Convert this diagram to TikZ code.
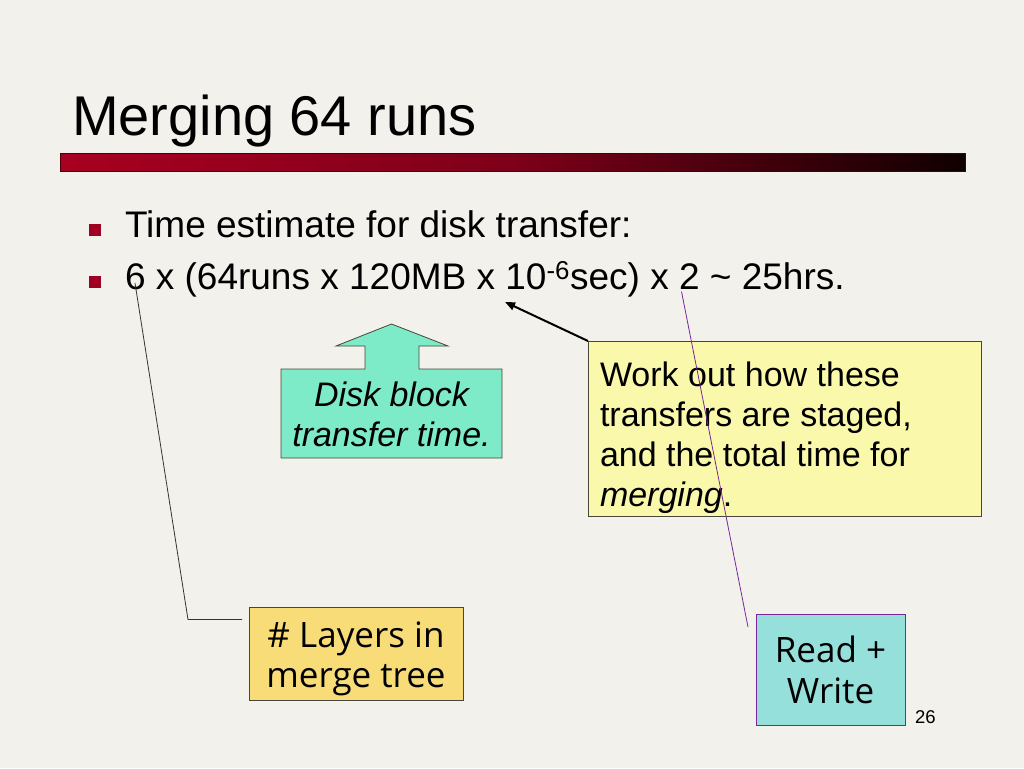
\documentclass[tikz,border=0pt]{standalone}
\usepackage{fontspec}
\setmainfont{Liberation Sans}
\newfontfamily\humfont{Open Sans}
\usetikzlibrary{arrows.meta}
\definecolor{bgc}{RGB}{243,241,235}
\definecolor{barL}{RGB}{168,0,32}
\definecolor{barM}{RGB}{126,0,26}
\definecolor{barR}{RGB}{16,0,0}
\definecolor{barline}{RGB}{70,0,12}
\definecolor{bulc}{RGB}{160,0,35}
\definecolor{greenf}{RGB}{125,235,200}
\definecolor{yellowf}{RGB}{250,248,170}
\definecolor{goldf}{RGB}{248,220,120}
\definecolor{cyanf}{RGB}{150,224,220}
\definecolor{purp}{RGB}{120,40,150}
\definecolor{edgec}{RGB}{70,70,60}
\tikzset{
  txt/.style={inner sep=0pt, outer sep=0pt},
  bulletsq/.style={fill=bulc, draw=none, minimum size=12pt, inner sep=0pt},
  calloutbox/.style={draw=edgec, line width=0.8pt, inner sep=0pt, anchor=north west},
  thinline/.style={line width=0.8pt},
}
\begin{document}
\begin{tikzpicture}[x=1pt,y=-1pt]
\useasboundingbox (0,0) rectangle (1024,768);
\fill[bgc] (0,0) rectangle (1024,768);
% title
\node[txt, anchor=base west, font=\fontsize{56}{60}\selectfont] (title) at (72,135) {Merging 64 runs};
\node[anchor=north west, minimum width=905pt, minimum height=18pt, inner sep=0pt,
  left color=barL, right color=barR, middle color=barM, draw=barline, line width=0.8pt] (bar) at (60,153) {};
% bullets
\node[bulletsq] (b1) at (95,230) {};
\node[bulletsq] (b2) at (95,282) {};
\node[txt, anchor=base west, font=\fontsize{37}{44}\selectfont] (t1) at (125,237) {Time estimate for disk transfer:};
\node[txt, anchor=base west, font=\fontsize{37}{44}\selectfont] (t2) at (125,289) {6 x (64runs x 120MB x 10\textsuperscript{-6}sec) x 2 \textasciitilde{} 25hrs.};
% green arrow callout
\draw[fill=greenf, draw=edgec, line width=0.8pt] (281,369) -- (365,369) -- (365,346) -- (336,346) -- (391.5,324)
  -- (448,346) -- (419,346) -- (419,369) -- (502,369) -- (502,458) -- (281,458) -- cycle;
\node[txt, anchor=base, align=center, font=\fontsize{34}{40}\selectfont\itshape] (disk) at (391.5,446.5) {Disk block\\transfer time.};
% yellow callout
\node[calloutbox, fill=yellowf, minimum width=393pt, minimum height=175pt] (work) at (588,341) {};
\node[txt, anchor=base west, align=left, font=\fontsize{34}{40}\selectfont] (worktxt) at (600,506.5) {Work out how these\\transfers are staged,\\and the total time for\\\textit{merging}.};
% layers box
\node[calloutbox, fill=goldf, minimum width=214pt, minimum height=93pt] (layers) at (249,607) {};
\node[txt, anchor=base, align=center, font=\humfont\fontsize{35}{40}\selectfont] (layerstxt) at (356,687.5) {\# Layers in\\merge tree};
% read write box
\node[calloutbox, fill=cyanf, draw=purp, minimum width=149pt, minimum height=111pt] (rw) at (756,614) {};
\node[txt, anchor=base, align=center, font=\humfont\fontsize{35}{41}\selectfont] (rwtxt) at (830.5,703.5) {Read +\\Write};
% page number
\node[txt, anchor=base west, font=\fontsize{18.5}{20}\selectfont] (pg) at (915,723.5) {26};
% connectors
\coordinate (tipA) at (505,302);
\draw[line width=2pt, -{Triangle[length=10pt,width=8pt]}] (work.north west) -- (tipA);
\coordinate (pTop) at (681.5,291.5);
\coordinate (pBot) at (748,627);
\draw[purp, thinline] (pBot) -- (pTop);
\coordinate (lEnd) at (242,619.5);
\coordinate (lBend) at (188,619.5);
\coordinate (lTop) at (135,283);
\draw[black!80, thinline] (lEnd) -- (lBend) -- (lTop);
\end{tikzpicture}
\end{document}
